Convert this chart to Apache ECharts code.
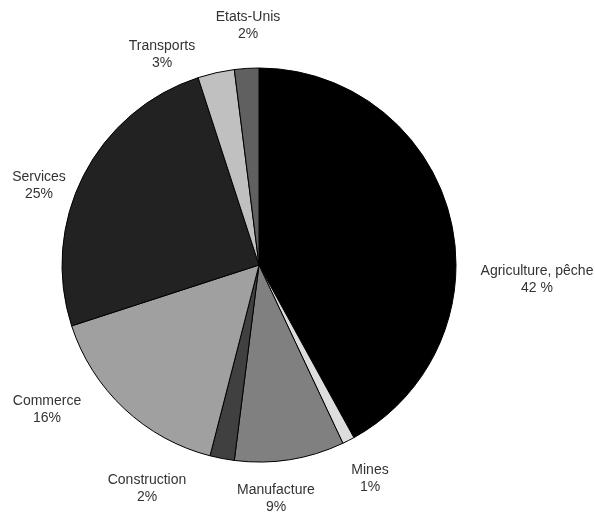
<!DOCTYPE html>
<html>
<head>
<meta charset="utf-8">
<script src="https://cdn.jsdelivr.net/npm/echarts@6/dist/echarts.min.js"></script>
<style>
  html, body { margin: 0; padding: 0; background: #fff; }
  #chart { width: 595px; height: 513px; }
</style>
</head>
<body>
<div id="chart"></div>
<script>
// secteurs, dans le sens horaire depuis le haut
const categories = ['Agriculture, pêche', 'Mines', 'Manufacture', 'Construction', 'Commerce', 'Services', 'Transports', 'Etats-Unis'];
const values = [42, 1, 9, 2, 16, 25, 3, 2];
const pctLabels = ['42 %', '1%', '9%', '2%', '16%', '25%', '3%', '2%'];

// styles / placement des étiquettes (hors données)
const colors = ['#000000', '#dddddd', '#808080', '#404040', '#a0a0a0', '#222222', '#c0c0c0', '#606060'];
const labelSpots = [[537, 280], [370, 479], [276, 499], [147, 489], [47, 410], [39, 186], [162, 55], [248, 26]];

const chart = echarts.init(document.getElementById('chart'));

const option = {
  backgroundColor: '#ffffff',
  animation: false,
  series: [
    {
      type: 'pie',
      center: [259, 265],
      radius: [0, 197],
      startAngle: 90,
      clockwise: true,
      avoidLabelOverlap: false,
      data: categories.map((name, i) => ({
        name: name,
        value: values[i],
        itemStyle: { color: colors[i] }
      })),
      itemStyle: { borderColor: '#000', borderWidth: 1 },
      label: {
        show: true,
        position: 'outside',
        formatter: (p) => p.name + '\n' + pctLabels[p.dataIndex],
        fontFamily: 'Liberation Sans, Arial, sans-serif',
        fontSize: 14,
        lineHeight: 17,
        color: '#333',
        align: 'center'
      },
      labelLine: { show: false },
      labelLayout: (params) => ({
        x: labelSpots[params.dataIndex][0],
        y: labelSpots[params.dataIndex][1],
        align: 'center',
        verticalAlign: 'middle'
      }),
      emphasis: { disabled: true }
    }
  ]
};

chart.setOption(option);
</script>
</body>
</html>
